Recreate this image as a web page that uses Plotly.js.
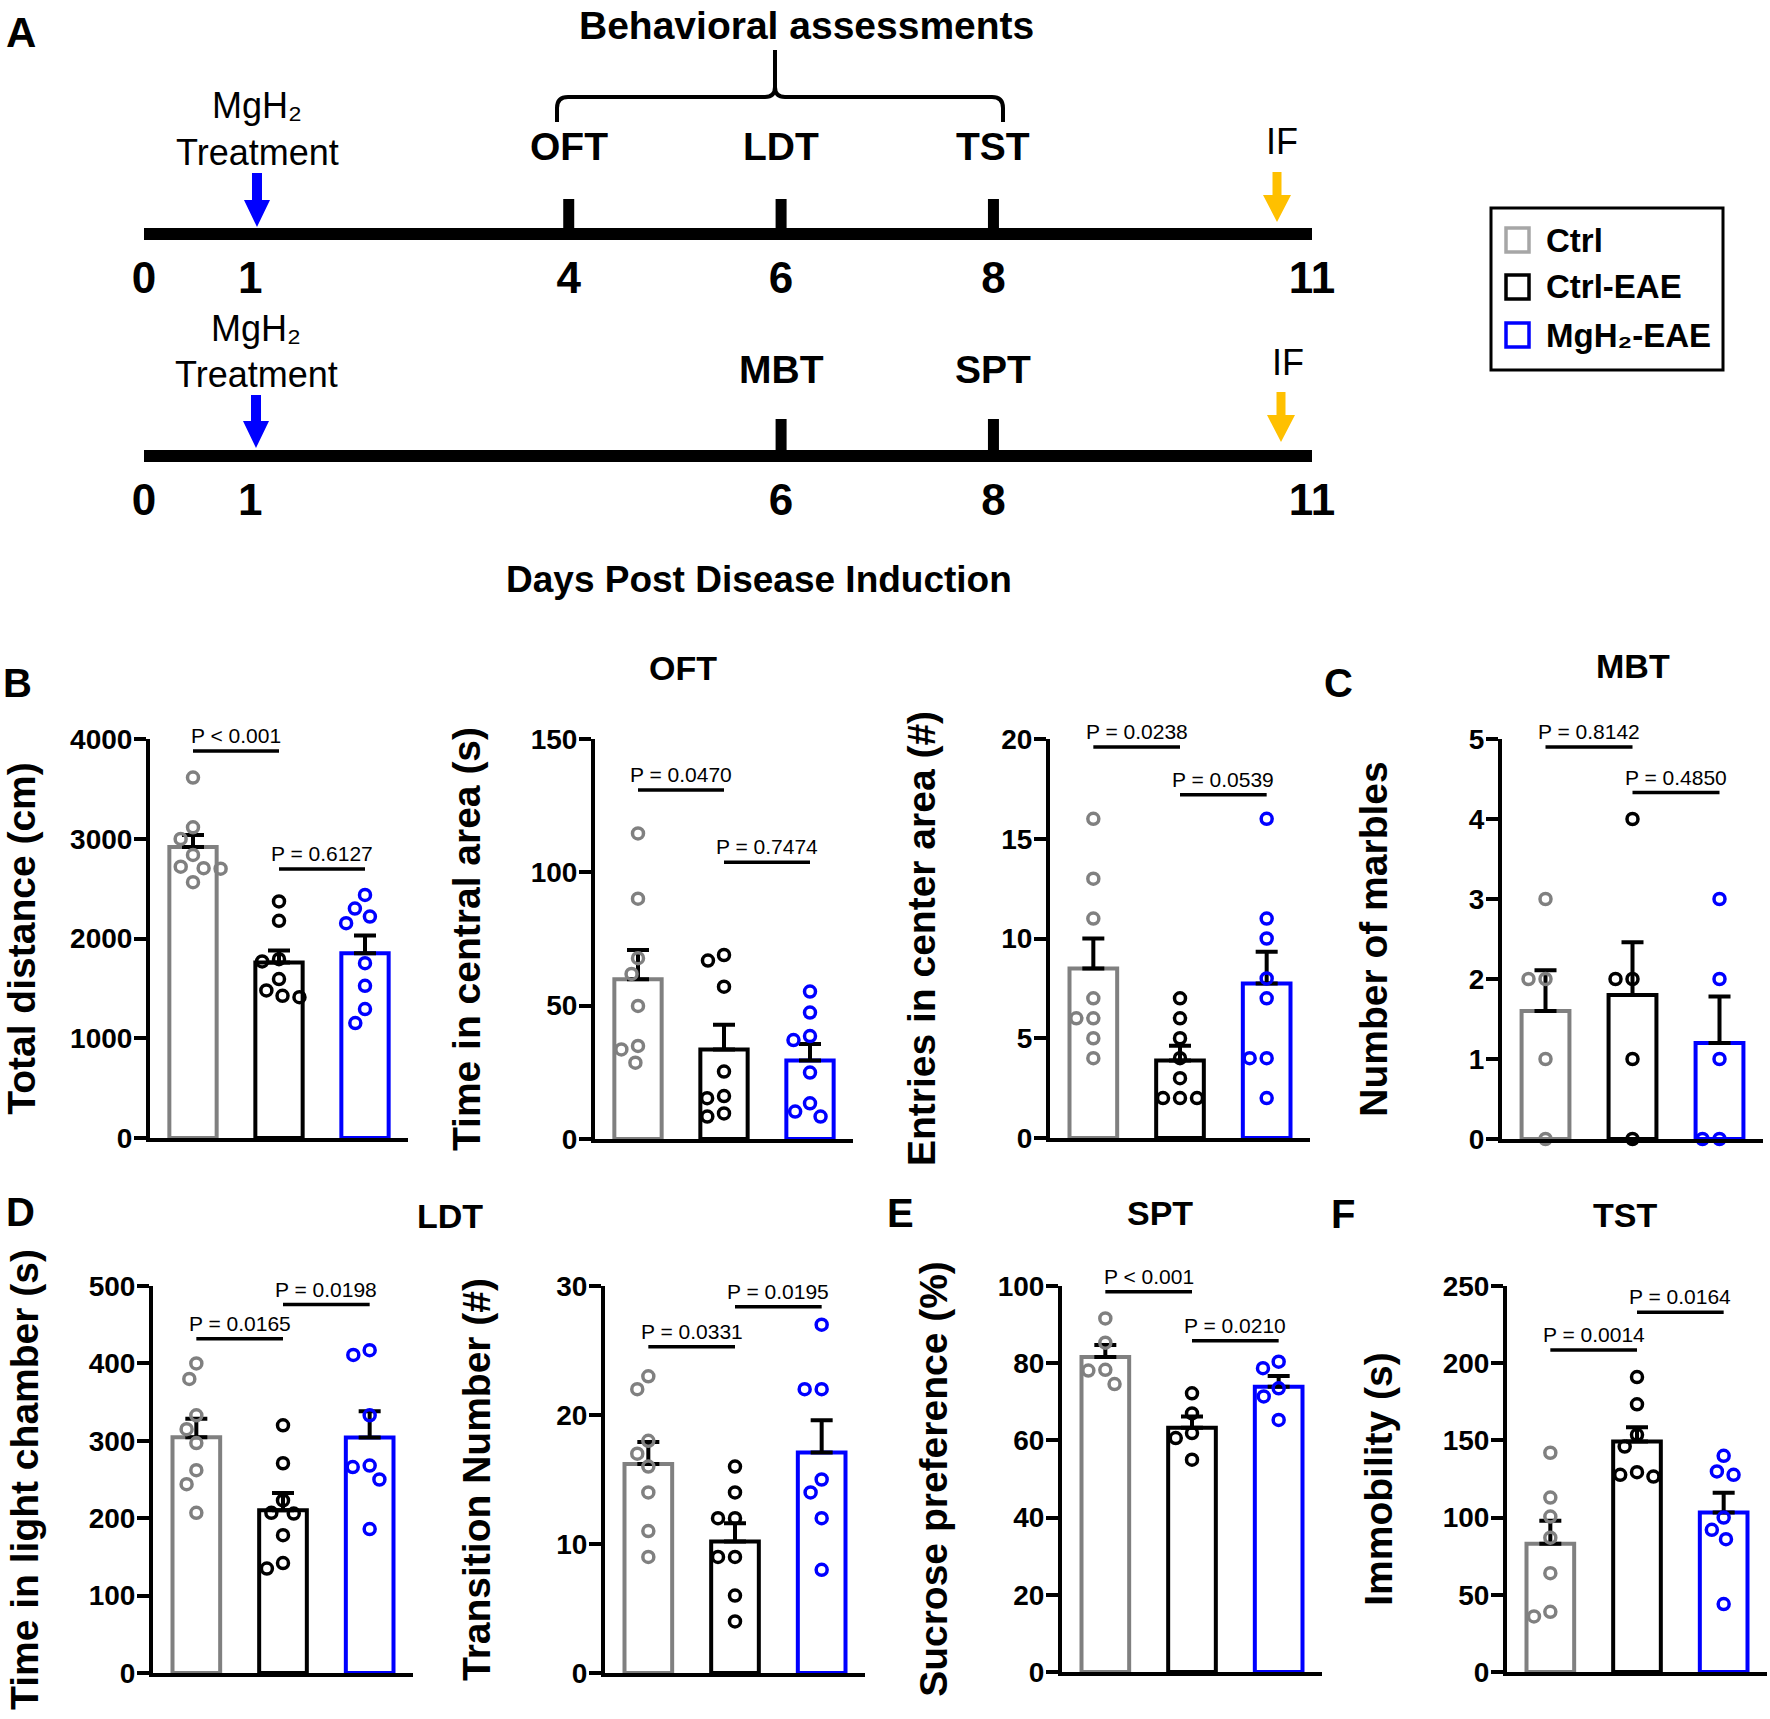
<!DOCTYPE html>
<html><head><meta charset="utf-8">
<script src="https://cdn.plot.ly/plotly-3.0.1.min.js"></script>
<style>html,body{margin:0;padding:0;background:#fff}#chart{width:1770px;height:1719px}</style>
</head><body><div id="chart"></div>
<script>
// ================= DATA =================
const groups = ['Ctrl', 'Ctrl-EAE', 'MgH\u2082-EAE'];
const timeline1Days = [0, 1, 4, 6, 8, 11];
const timeline2Days = [0, 1, 6, 8, 11];
const timeline1Events = ['OFT', 'LDT', 'TST'];
const timeline1EventDays = [4, 6, 8];
const timeline2Events = ['MBT', 'SPT'];
const timeline2EventDays = [6, 8];

// B – OFT total distance (cm)
const distCtrl = [3613, 3115, 2998, 2838, 2720, 2705, 2700, 2564];
const distEAE  = [2371, 2177, 1793, 1770, 1593, 1479, 1426, 1412];
const distMgH  = [2437, 2300, 2220, 2154, 1753, 1526, 1292, 1152];
const distMean = [2917, 1760, 1853];
const distSEM  = [121, 120, 177];
const distP    = ['P < 0.001', 'P = 0.6127'];
const distPY   = [3880, 2697];

// B – OFT time in central area (s)
const centCtrl = [114.6, 90.1, 67.8, 61.9, 49.9, 34.9, 33.6, 28.6];
const centEAE  = [69.0, 66.9, 57.1, 25.3, 16.1, 15.3, 9.6, 8.4];
const centMgH  = [55.3, 47.4, 38.6, 37.1, 24.9, 13.4, 10.3, 8.4];
const centMean = [59.9, 33.6, 29.4];
const centSEM  = [11.0, 9.2, 6.2];
const centP    = ['P = 0.0470', 'P = 0.7474'];
const centPY   = [130.9, 103.8];

// B – OFT entries in center area (#)
const entrCtrl = [16, 13, 11, 7, 6, 6, 5, 4];
const entrEAE  = [7, 6, 5, 4, 3, 2, 2, 2];
const entrMgH  = [16, 11, 10, 8, 7, 4, 4, 2];
const entrMean = [8.5, 3.88, 7.75];
const entrSEM  = [1.5, 0.74, 1.58];
const entrP    = ['P = 0.0238', 'P = 0.0539'];
const entrPY   = [19.6, 17.2];

// C – MBT number of marbles
const marbCtrl = [3, 2, 2, 1, 0];
const marbEAE  = [4, 2, 2, 1, 0];
const marbMgH  = [3, 2, 1, 0, 0];
const marbMean = [1.6, 1.8, 1.2];
const marbSEM  = [0.51, 0.66, 0.58];
const marbP    = ['P = 0.8142', 'P = 0.4850'];
const marbPY   = [4.9, 4.33];

// D – LDT time in light chamber (s)
const lightCtrl = [400, 380, 333, 315, 297, 262, 244, 207];
const lightEAE  = [320, 271, 223, 207, 206, 178, 142, 135];
const lightMgH  = [417, 411, 333, 268, 266, 250, 186];
const lightMean = [304.5, 210.3, 304.3];
const lightSEM  = [24, 22.4, 34];
const lightP    = ['P = 0.0165', 'P = 0.0198'];
const lightPY   = [432, 476];

// D – LDT transition number (#)
const tranCtrl = [23, 22, 18, 17, 16, 14, 11, 9];
const tranEAE  = [16, 14, 12, 12, 9, 9, 6, 4];
const tranMgH  = [27, 22, 22, 15, 14, 12, 8];
const tranMean = [16.2, 10.2, 17.1];
const tranSEM  = [1.7, 1.4, 2.5];
const tranP    = ['P = 0.0331', 'P = 0.0195'];
const tranPY   = [25.3, 28.4];

// E – SPT sucrose preference (%)
const sucCtrl = [91.6, 85.3, 78.3, 78.1, 74.6];
const sucEAE  = [72.2, 67.0, 61.9, 60.6, 55.0];
const sucMgH  = [80.4, 78.7, 73.5, 71.4, 65.3];
const sucMean = [81.6, 63.3, 73.9];
const sucSEM  = [3.1, 2.9, 2.8];
const sucP    = ['P < 0.001', 'P = 0.0210'];
const sucPY   = [98.5, 85.8];

// F – TST immobility (s)
const immCtrl = [142, 113, 100.7, 87, 64, 39, 36];
const immEAE  = [191, 173.4, 153.6, 146, 129.4, 127.7, 126.6];
const immMgH  = [140, 129.9, 127.7, 100, 92.1, 86, 44];
const immMean = [83.0, 149.3, 103.3];
const immSEM  = [14.9, 9.2, 12.8];
const immP    = ['P = 0.0014', 'P = 0.0164'];
const immPY   = [208.6, 233];

// ================= STYLE / LAYOUT =================
const W = 1770, H = 1719;
const FONT = '"Liberation Sans", Arial, Helvetica, sans-serif';
const groupColors = ['#808080', '#000000', '#0000FF'];
const legendColors = ['#A6A6A6', '#000000', '#0000FF'];
const px = x => x / W, py = y => 1 - y / H;

function pathPx(cmds) {
  return cmds.map(c => {
    let s = c[0];
    const nums = c.slice(1);
    for (let i = 0; i < nums.length; i += 2) s += (i ? ' ' : '') + px(nums[i]).toFixed(5) + ',' + py(nums[i + 1]).toFixed(5);
    return s;
  }).join(' ');
}

const measureCtx = document.createElement('canvas').getContext('2d');
function textW(str, size) { measureCtx.font = '700 ' + size + 'px "Liberation Sans", Arial'; return measureCtx.measureText(str).width; }

function swarm(vals, pxPerY, D) {
  const order = vals.map((v, i) => i).sort((a, b) => vals[b] - vals[a]);
  const placed = [], out = new Array(vals.length);
  order.forEach(i => {
    const y = vals[i] * pxPerY;
    const near = placed.filter(p => Math.abs(p.y - y) < D);
    const cands = [0];
    near.forEach(p => { const dx = Math.sqrt(D * D - (p.y - y) ** 2); cands.push(p.x + dx, p.x - dx); });
    const ok = cands.filter(c => near.every(p => Math.hypot(p.x - c, p.y - y) >= D - 1e-6));
    ok.sort((a, b) => Math.abs(a) - Math.abs(b) || a - b);
    placed.push({ x: ok[0], y }); out[i] = ok[0];
  });
  return out;
}

const panels = [
  { vals: [distCtrl, distEAE, distMgH], mean: distMean, sem: distSEM, p: distP, pY: distPY, ymax: 4000, dtick: 1000, title: 'Total distance (cm)', box: [150, 408, 739, 1138] },
  { vals: [centCtrl, centEAE, centMgH], mean: centMean, sem: centSEM, p: centP, pY: centPY, ymax: 150, dtick: 50, title: 'Time in central area (s)', box: [595, 853, 739, 1139] },
  { vals: [entrCtrl, entrEAE, entrMgH], mean: entrMean, sem: entrSEM, p: entrP, pY: entrPY, ymax: 20, dtick: 5, title: 'Entries in center area (#)', box: [1050, 1310, 739, 1138] },
  { vals: [marbCtrl, marbEAE, marbMgH], mean: marbMean, sem: marbSEM, p: marbP, pY: marbPY, ymax: 5, dtick: 1, title: 'Number of marbles', box: [1502, 1763, 739, 1139] },
  { vals: [lightCtrl, lightEAE, lightMgH], mean: lightMean, sem: lightSEM, p: lightP, pY: lightPY, ymax: 500, dtick: 100, title: 'Time in light chamber (s)', box: [153, 413, 1286, 1673] },
  { vals: [tranCtrl, tranEAE, tranMgH], mean: tranMean, sem: tranSEM, p: tranP, pY: tranPY, ymax: 30, dtick: 10, title: 'Transition Number (#)', box: [605, 865, 1286, 1673] },
  { vals: [sucCtrl, sucEAE, sucMgH], mean: sucMean, sem: sucSEM, p: sucP, pY: sucPY, ymax: 100, dtick: 20, title: 'Sucrose preference (%)', box: [1062, 1322, 1286, 1672] },
  { vals: [immCtrl, immEAE, immMgH], mean: immMean, sem: immSEM, p: immP, pY: immPY, ymax: 250, dtick: 50, title: 'Immobility (s)', box: [1507, 1767, 1286, 1672] }
];

const TICKFONT = 28, TITLEFONT = 39, TICKLEN = 12;
const traces = [], shapes = [], annotations = [];
const layout = {
  width: W, height: H, margin: { l: 0, r: 0, t: 0, b: 0 },
  paper_bgcolor: '#fff', plot_bgcolor: 'rgba(0,0,0,0)',
  font: { family: FONT, color: '#000' }, showlegend: false, hovermode: false
};

panels.forEach((pd, k) => {
  const n = k + 1;
  const xa = n === 1 ? 'x' : 'x' + n, ya = n === 1 ? 'y' : 'y' + n;
  const [x0, x1, y0, y1] = pd.box;
  const pxPerX = (x1 - x0) / 3, pxPerY = (y1 - y0) / pd.ymax;

  traces.push({
    type: 'bar', x: [0, 1, 2], y: pd.mean, xaxis: xa, yaxis: ya, width: 0.55, name: 'mean',
    marker: { color: '#ffffff', line: { color: groupColors, width: 4 } },
    error_y: { type: 'data', symmetric: false, array: pd.sem, arrayminus: [0, 0, 0], color: '#000', thickness: 4, width: 11 },
    hoverinfo: 'skip'
  });
  pd.vals.forEach((v, g) => {
    const off = swarm(v, pxPerY, 17);
    traces.push({
      type: 'scatter', mode: 'markers', name: groups[g], xaxis: xa, yaxis: ya,
      x: v.map((_, i) => g + off[i] / pxPerX), y: v, cliponaxis: false,
      marker: { symbol: 'circle', size: 11, color: 'rgba(0,0,0,0)', line: { color: groupColors[g], width: 3.5 } }
    });
  });

  const ticks = [];
  for (let t = 0; t <= pd.ymax + 1e-9; t += pd.dtick) ticks.push(t);
  const lw = Math.max(...ticks.map(t => textW(String(t), TICKFONT)));

  layout[n === 1 ? 'xaxis' : 'xaxis' + n] = {
    domain: [px(x0), px(x1)], range: [-0.5, 2.5], anchor: ya,
    showline: true, linewidth: 4, linecolor: '#000', ticks: '', showticklabels: false,
    showgrid: false, zeroline: false, fixedrange: true
  };
  layout[n === 1 ? 'yaxis' : 'yaxis' + n] = {
    domain: [py(y1), py(y0)], range: [0, pd.ymax], anchor: xa, tickmode: 'linear', tick0: 0, dtick: pd.dtick,
    tickformat: 'd', ticks: 'outside', ticklen: TICKLEN, tickwidth: 4, tickcolor: '#000', ticklabelstandoff: -4,
    showline: true, linewidth: 4, linecolor: '#000', showgrid: false, zeroline: false, fixedrange: true,
    tickfont: { family: FONT, size: TICKFONT, weight: 'bold', color: '#000' },
    title: { text: pd.title, font: { family: FONT, size: TITLEFONT, weight: 'bold', color: '#000' }, standoff: Math.max(0, 86 - lw) }
  };

  // significance brackets
  pd.p.forEach((txt, j) => {
    shapes.push({ type: 'line', xref: xa, yref: ya, x0: j, x1: j + 1, y0: pd.pY[j], y1: pd.pY[j], line: { color: '#000', width: 3.5 } });
    annotations.push({ xref: xa, yref: ya, x: j + 0.5, y: pd.pY[j], text: txt, showarrow: false, yanchor: 'bottom', yshift: 2,
      font: { family: FONT, size: 21, color: '#000' } });
  });
});

// ---------- Panel A timelines ----------
[[9, 234, timeline1Days], [10, 456, timeline2Days]].forEach(([n, yLine, days]) => {
  layout['xaxis' + n] = {
    domain: [px(144), px(1312)], range: [0, 11], anchor: 'y' + n, tickmode: 'array', tickvals: days, ticktext: days.map(String),
    ticks: '', showline: false, showgrid: false, zeroline: false, fixedrange: true, ticklabelstandoff: 14,
    tickfont: { family: FONT, size: 44, weight: 'bold', color: '#000' }
  };
  layout['yaxis' + n] = { domain: [py(yLine), py(yLine - 30)], range: [0, 1], anchor: 'x' + n, visible: false, fixedrange: true };
  shapes.push({ type: 'line', xref: 'x' + n, yref: 'paper', x0: 0, x1: 11, y0: py(yLine), y1: py(yLine), line: { color: '#000', width: 12 } });
});
timeline1EventDays.forEach((d, i) => {
  shapes.push({ type: 'line', xref: 'x9', yref: 'paper', x0: d, x1: d, y0: py(199), y1: py(234), line: { color: '#000', width: 11 } });
  annotations.push({ xref: 'x9', yref: 'paper', x: d, y: py(147), text: timeline1Events[i], showarrow: false, xanchor: 'center', yanchor: 'middle',
    font: { family: FONT, size: 39, weight: 'bold' } });
});
timeline2EventDays.forEach((d, i) => {
  shapes.push({ type: 'line', xref: 'x10', yref: 'paper', x0: d, x1: d, y0: py(419), y1: py(456), line: { color: '#000', width: 11 } });
  annotations.push({ xref: 'x10', yref: 'paper', x: d, y: py(370), text: timeline2Events[i], showarrow: false, xanchor: 'center', yanchor: 'middle',
    font: { family: FONT, size: 39, weight: 'bold' } });
});

function downArrow(cx, yTop, yTip, sw, hw, hl, color) {
  shapes.push({ type: 'path', xref: 'paper', yref: 'paper', fillcolor: color, line: { width: 0 },
    path: pathPx([['M', cx - sw / 2, yTop], ['L', cx + sw / 2, yTop], ['L', cx + sw / 2, yTip - hl], ['L', cx + hw / 2, yTip - hl],
      ['L', cx, yTip], ['L', cx - hw / 2, yTip - hl], ['L', cx - sw / 2, yTip - hl], ['Z']]) });
}
downArrow(257, 173, 227, 10, 26, 27, '#0000FF');
downArrow(256, 395, 448, 10, 26, 27, '#0000FF');
downArrow(1277, 172, 222, 9, 28, 27, '#FFC000');
downArrow(1281, 392, 442, 9, 28, 27, '#FFC000');

// brace
shapes.push({ type: 'path', xref: 'paper', yref: 'paper', fillcolor: 'rgba(0,0,0,0)', line: { color: '#000', width: 4 },
  path: pathPx([['M', 557, 122], ['L', 557, 108], ['Q', 557, 97, 568, 97], ['L', 765, 97], ['Q', 775, 97, 775, 87], ['L', 775, 50],
    ['M', 775, 87], ['Q', 775, 97, 785, 97], ['L', 992, 97], ['Q', 1003, 97, 1003, 108], ['L', 1003, 122]]) });

const paperText = (x, y, text, size, bold, extra) => annotations.push(Object.assign({
  xref: 'paper', yref: 'paper', x: px(x), y: py(y), text, showarrow: false, xanchor: 'center', yanchor: 'middle',
  font: { family: FONT, size, weight: bold ? 'bold' : 'normal', color: '#000' } }, extra || {}));

paperText(806, 26, 'Behavioral assessments', 39, true);
paperText(257, 106, 'MgH\u2082', 36, false);
paperText(257, 152, 'Treatment', 36, false);
paperText(256, 329, 'MgH\u2082', 36, false);
paperText(256, 374, 'Treatment', 36, false);
paperText(1282, 142, 'IF', 36, false);
paperText(1288, 363, 'IF', 36, false);
paperText(759, 579, 'Days Post Disease Induction', 37, true);

// panel letters and titles
paperText(21, 32, 'A', 42, true);
paperText(17, 683, 'B', 40, true);
paperText(1338, 683, 'C', 40, true);
paperText(20, 1212, 'D', 40, true);
paperText(900, 1213, 'E', 40, true);
paperText(1343, 1214, 'F', 40, true);
paperText(683, 668, 'OFT', 34, true);
paperText(1633, 666, 'MBT', 34, true);
paperText(450, 1216, 'LDT', 34, true);
paperText(1160, 1213, 'SPT', 34, true);
paperText(1625, 1215, 'TST', 34, true);

// legend
shapes.push({ type: 'rect', xref: 'paper', yref: 'paper', x0: px(1491), x1: px(1723), y0: py(370), y1: py(208), line: { color: '#000', width: 3 }, fillcolor: '#fff', layer: 'below' });
[240, 287, 335].forEach((yc, i) => {
  shapes.push({ type: 'rect', xref: 'paper', yref: 'paper', x0: px(1506), x1: px(1529), y0: py(yc + 12), y1: py(yc - 12), line: { color: legendColors[i], width: 3.5 }, fillcolor: '#fff' });
  paperText(1544, yc, groups[i], 33, true, { xanchor: 'left' });
});

layout.shapes = shapes;
layout.annotations = annotations;
Plotly.newPlot('chart', traces, layout, { staticPlot: true });
</script></body></html>
